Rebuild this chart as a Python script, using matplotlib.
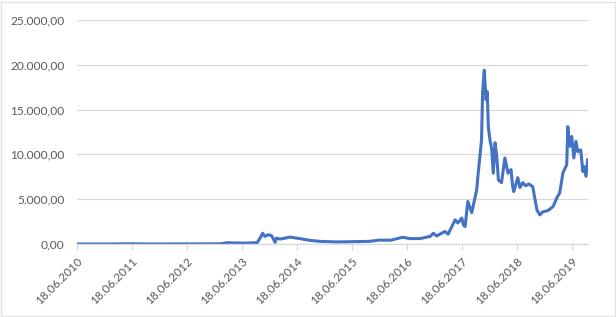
import pandas as pd
import matplotlib
matplotlib.use("Agg")
import matplotlib.pyplot as plt
import matplotlib.dates as mdates
from matplotlib.ticker import FuncFormatter, MultipleLocator
from matplotlib.patches import Rectangle

# price series (date, value)
dates = [
    "2010-06-18", "2010-11-01", "2011-02-01", "2011-06-10", "2011-09-01",
    "2011-12-01", "2012-03-01", "2012-08-15", "2012-12-15", "2013-02-01",
    "2013-03-10", "2013-04-20", "2013-07-01", "2013-09-27", "2013-10-16",
    "2013-11-02", "2013-11-17", "2013-12-08", "2014-01-01", "2014-01-24",
    "2014-01-31", "2014-02-26", "2014-05-04", "2014-06-18", "2014-09-14",
    "2014-11-19", "2015-03-10", "2015-06-07", "2015-10-16", "2015-12-15",
    "2016-03-01", "2016-05-16", "2016-05-24", "2016-07-10", "2016-09-15",
    "2016-11-19", "2016-12-10", "2017-01-01", "2017-02-25", "2017-03-18",
    "2017-05-04", "2017-05-22", "2017-06-17", "2017-06-28", "2017-07-09",
    "2017-07-27", "2017-08-22", "2017-09-24", "2017-10-01", "2017-10-26",
    "2017-11-02", "2017-11-13", "2017-11-25", "2017-12-03", "2017-12-10",
    "2017-12-21", "2018-01-01", "2018-01-12", "2018-01-24", "2018-02-04",
    "2018-02-15", "2018-03-08", "2018-03-30", "2018-04-20", "2018-05-10",
    "2018-05-21", "2018-05-28", "2018-06-24", "2018-07-08", "2018-07-27",
    "2018-08-15", "2018-09-05", "2018-10-01", "2018-10-29", "2018-11-17",
    "2018-12-08", "2019-01-05", "2019-01-24", "2019-02-14", "2019-03-10",
    "2019-03-29", "2019-04-20", "2019-05-15", "2019-05-22", "2019-06-04",
    "2019-06-17", "2019-07-01", "2019-07-15", "2019-07-27", "2019-08-16",
    "2019-08-30", "2019-09-06", "2019-09-20", "2019-10-01",
]
prices = [
    0.1, 0.3, 1, 20, 5,
    3, 5, 11, 13, 30,
    150, 120, 100, 150, 650,
    1200, 850, 1030, 920, 180,
    650, 550, 770, 650, 400,
    290, 230, 250, 300, 430,
    420, 730, 740, 600, 610,
    850, 1200, 900, 1400, 1100,
    2700, 2350, 2900, 2100, 1950,
    4750, 3500, 6050, 7400, 11600,
    16850, 19400, 16100, 17000, 13100,
    11600, 10700, 7900, 11300, 9800,
    7150, 6850, 9600, 7900, 8300,
    6400, 5850, 7400, 6300, 6850,
    6500, 6700, 6400, 3800, 3250,
    3600, 3700, 3900, 4200, 5150,
    5700, 7950, 8850, 13100, 10900,
    12000, 9600, 11450, 10300, 10500,
    8100, 8650, 7550, 9400,
]
tick_dates = ["2010-06-18", "2011-06-18", "2012-06-18", "2013-06-18", "2014-06-18",
              "2015-06-18", "2016-06-18", "2017-06-18", "2018-06-18", "2019-06-18"]

plt.rcParams["font.family"] = ["Lato", "DejaVu Sans"]

df = pd.DataFrame({"date": pd.to_datetime(dates), "price": prices})

fig = plt.figure(figsize=(6.16, 3.17), dpi=100)
ax = fig.add_axes([0.125, 0.2303, 0.8295, 0.7066])

ax.plot(df["date"], df["price"], color="#4472C4", lw=2.2, solid_joinstyle="round")

ax.set_ylim(0, 25000)
ax.set_xlim(pd.Timestamp("2010-06-18"), pd.Timestamp("2019-10-03"))
ax.yaxis.set_major_locator(MultipleLocator(5000))


def de_fmt(v, pos):
    s = f"{v:,.2f}"
    return s.replace(",", "X").replace(".", ",").replace("X", ".")


ax.yaxis.set_major_formatter(FuncFormatter(de_fmt))
ax.set_xticks(pd.to_datetime(tick_dates))
ax.xaxis.set_major_formatter(mdates.DateFormatter("%d.%m.%Y"))

ax.grid(axis="y", color="#D9D9D9", lw=0.9)
ax.set_axisbelow(True)
for s in ["top", "right", "left"]:
    ax.spines[s].set_visible(False)
ax.spines["bottom"].set_color("#D9D9D9")
ax.spines["bottom"].set_linewidth(0.9)

ax.tick_params(axis="y", length=0, pad=9, labelsize=8.6, labelcolor="#595959")
ax.tick_params(axis="x", length=4, width=0.9, color="#D9D9D9", pad=4,
               labelsize=8.6, labelcolor="#595959")
for lbl in ax.get_xticklabels():
    lbl.set_rotation(45)
    lbl.set_ha("right")
    lbl.set_rotation_mode("anchor")

fig.patches.append(Rectangle((0.002, 0.003), 0.996, 0.99, transform=fig.transFigure,
                             fill=False, edgecolor="#E3E3E3", lw=1))

fig.savefig("out.png", dpi=100)
plt.close(fig)
